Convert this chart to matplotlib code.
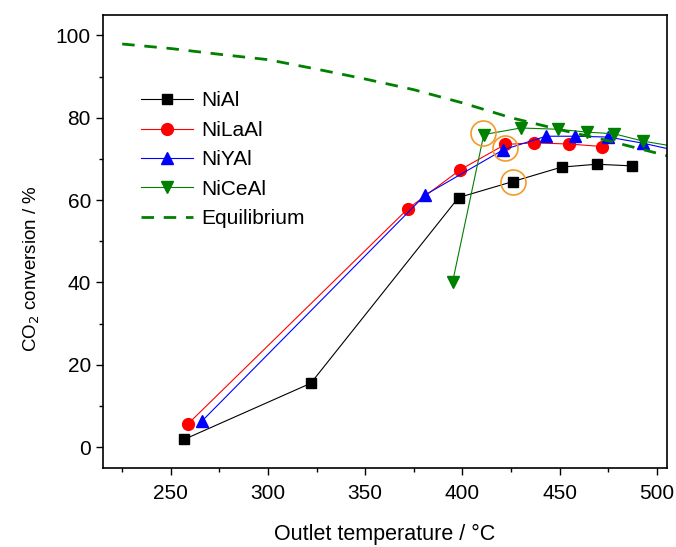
import matplotlib
matplotlib.use("Agg")
import matplotlib.pyplot as plt

plt.rcParams['font.family'] = ['Liberation Sans', 'DejaVu Sans']

# data
t_nial = [257, 322, 398, 426, 451, 469, 487]
x_nial = [1.9, 15.5, 60.6, 64.5, 68.0, 68.7, 68.3]

t_nilaal = [259, 372, 399, 422, 437, 455, 472]
x_nilaal = [5.7, 57.9, 67.4, 73.5, 73.9, 73.6, 73.0]

t_niyal = [266, 381, 421, 443, 458, 475, 493, 512]
x_niyal = [6.3, 61.3, 72.2, 75.5, 75.5, 75.3, 73.8, 71.8]

t_nical = [395, 411, 430, 449, 464, 478, 493, 512]
x_nical = [40.2, 75.9, 77.5, 77.2, 76.5, 76.1, 74.3, 72.8]

t_eq = [225, 250, 275, 300, 325, 350, 375, 400, 425, 450, 475, 500, 510]
x_eq = [97.9, 96.8, 95.4, 94.1, 91.8, 89.4, 86.8, 83.6, 80.0, 77.1, 74.4, 71.4, 70.2]

# highlighted points (orange rings)
t_ring = [410.8, 421.9, 426.0]
x_ring = [76.3, 72.6, 64.5]

fig = plt.figure(figsize=(6.76, 5.47), dpi=100)
ax = fig.add_axes([0.152, 0.145, 0.834, 0.828])

ax.plot(t_nial, x_nial, '-s', color='black', lw=0.8, ms=7.5, label='NiAl')
ax.plot(t_nilaal, x_nilaal, '-o', color='red', lw=0.8, ms=8.5, label='NiLaAl')
ax.plot(t_niyal, x_niyal, '-^', color='blue', lw=0.8, ms=8.5, label='NiYAl')
ax.plot(t_nical, x_nical, '-v', color='green', lw=0.8, ms=8.5, label='NiCeAl')
ax.plot(t_eq, x_eq, '--', color='green', lw=2, dashes=(4.5, 3.5), label='Equilibrium')
ax.plot(t_ring, x_ring, 'o', mfc='none', mec='#f39a2b', mew=1.2, ms=18)

ax.set_xlim(215, 505)
ax.set_ylim(-5, 105)
ax.set_xticks([250, 300, 350, 400, 450, 500])
ax.set_xticks([225, 275, 325, 375, 425, 475], minor=True)
ax.set_yticks([0, 20, 40, 60, 80, 100])
ax.set_yticks([10, 30, 50, 70, 90], minor=True)
ax.tick_params(which='both', direction='out', labelsize=15, width=1)
ax.tick_params(which='major', length=5)
ax.tick_params(which='minor', length=3)
ax.tick_params(axis='x', pad=7)
for s in ax.spines.values():
    s.set_linewidth(1.2)

ax.set_xlabel('Outlet temperature / °C', fontsize=15.5, labelpad=15)
ax.set_ylabel('CO$_2$ conversion / %', fontsize=13.5)
ax.yaxis.set_label_coords(-0.108, 0.44)

ax.legend(loc='upper left', bbox_to_anchor=(0.035, 0.872), frameon=False,
          fontsize=15, handlelength=2.5, labelspacing=0.5, handletextpad=0.4)

fig.savefig('out.png', dpi=100)
